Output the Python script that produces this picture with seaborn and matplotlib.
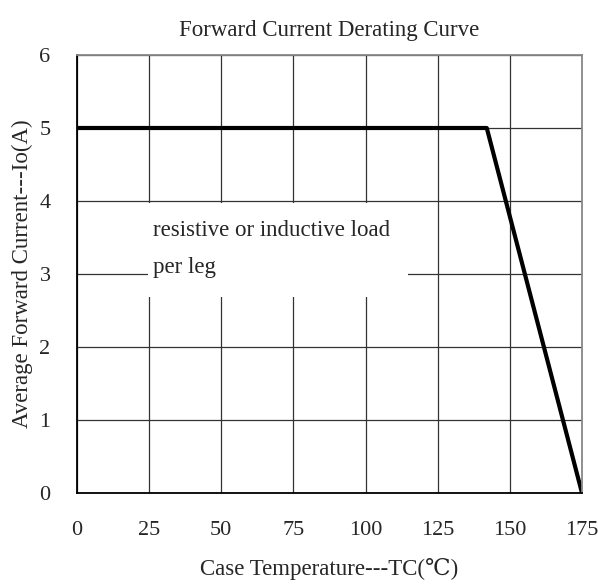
import pandas as pd
import matplotlib.pyplot as plt
import seaborn as sns
from matplotlib.patches import Rectangle

temp = [0, 142, 175]
current = [5, 5, 0]
x_ticks = [0, 25, 50, 75, 100, 125, 150, 175]
y_ticks = [0, 1, 2, 3, 4, 5, 6]

data = pd.DataFrame({'Temp': temp, 'Current': current})

sns.set_style('white')
plt.rcParams['font.family'] = ['Liberation Serif', 'DejaVu Serif', 'Noto Sans CJK SC']

fig = plt.figure(figsize=(5.98, 5.85), dpi=100)
ax = fig.add_axes([77/598, 92/585, 505/598, 438/585])

sns.lineplot(x='Temp', y='Current', data=data, color='black', linewidth=3, ax=ax)

ax.set_xlim(0, 175)
ax.set_ylim(0, 6)
ax.set_xticks(x_ticks)
ax.set_yticks(y_ticks)
ax.grid(True, color='#333333', linewidth=0.9)
ax.tick_params(labelsize=16, length=0)
ax.tick_params(axis='x', pad=20)
ax.tick_params(axis='y', pad=19)

for s in ['left', 'bottom']:
    ax.spines[s].set_color('black')
    ax.spines[s].set_linewidth(1.3)
for s in ['top', 'right']:
    ax.spines[s].set_color('#888888')
    ax.spines[s].set_linewidth(1.3)

# white background behind the note
ax.add_patch(Rectangle((0.141, 0.447), 0.514, 0.215, transform=ax.transAxes,
                       facecolor='white', edgecolor='none', zorder=1.5))
ax.text(26.3, 3.34, 'resistive or inductive load\nper leg', fontsize=16.5,
        va='center', ha='left', linespacing=2.0, zorder=3)

ax.set_title('Forward Current Derating Curve', fontsize=16.5, pad=14)
ax.set_xlabel('Case Temperature---TC(\u2103)', fontsize=16.5, labelpad=13)
ax.set_ylabel('Average Forward Current---Io(A)', fontsize=16.5, labelpad=5)

plt.savefig('out.png')
